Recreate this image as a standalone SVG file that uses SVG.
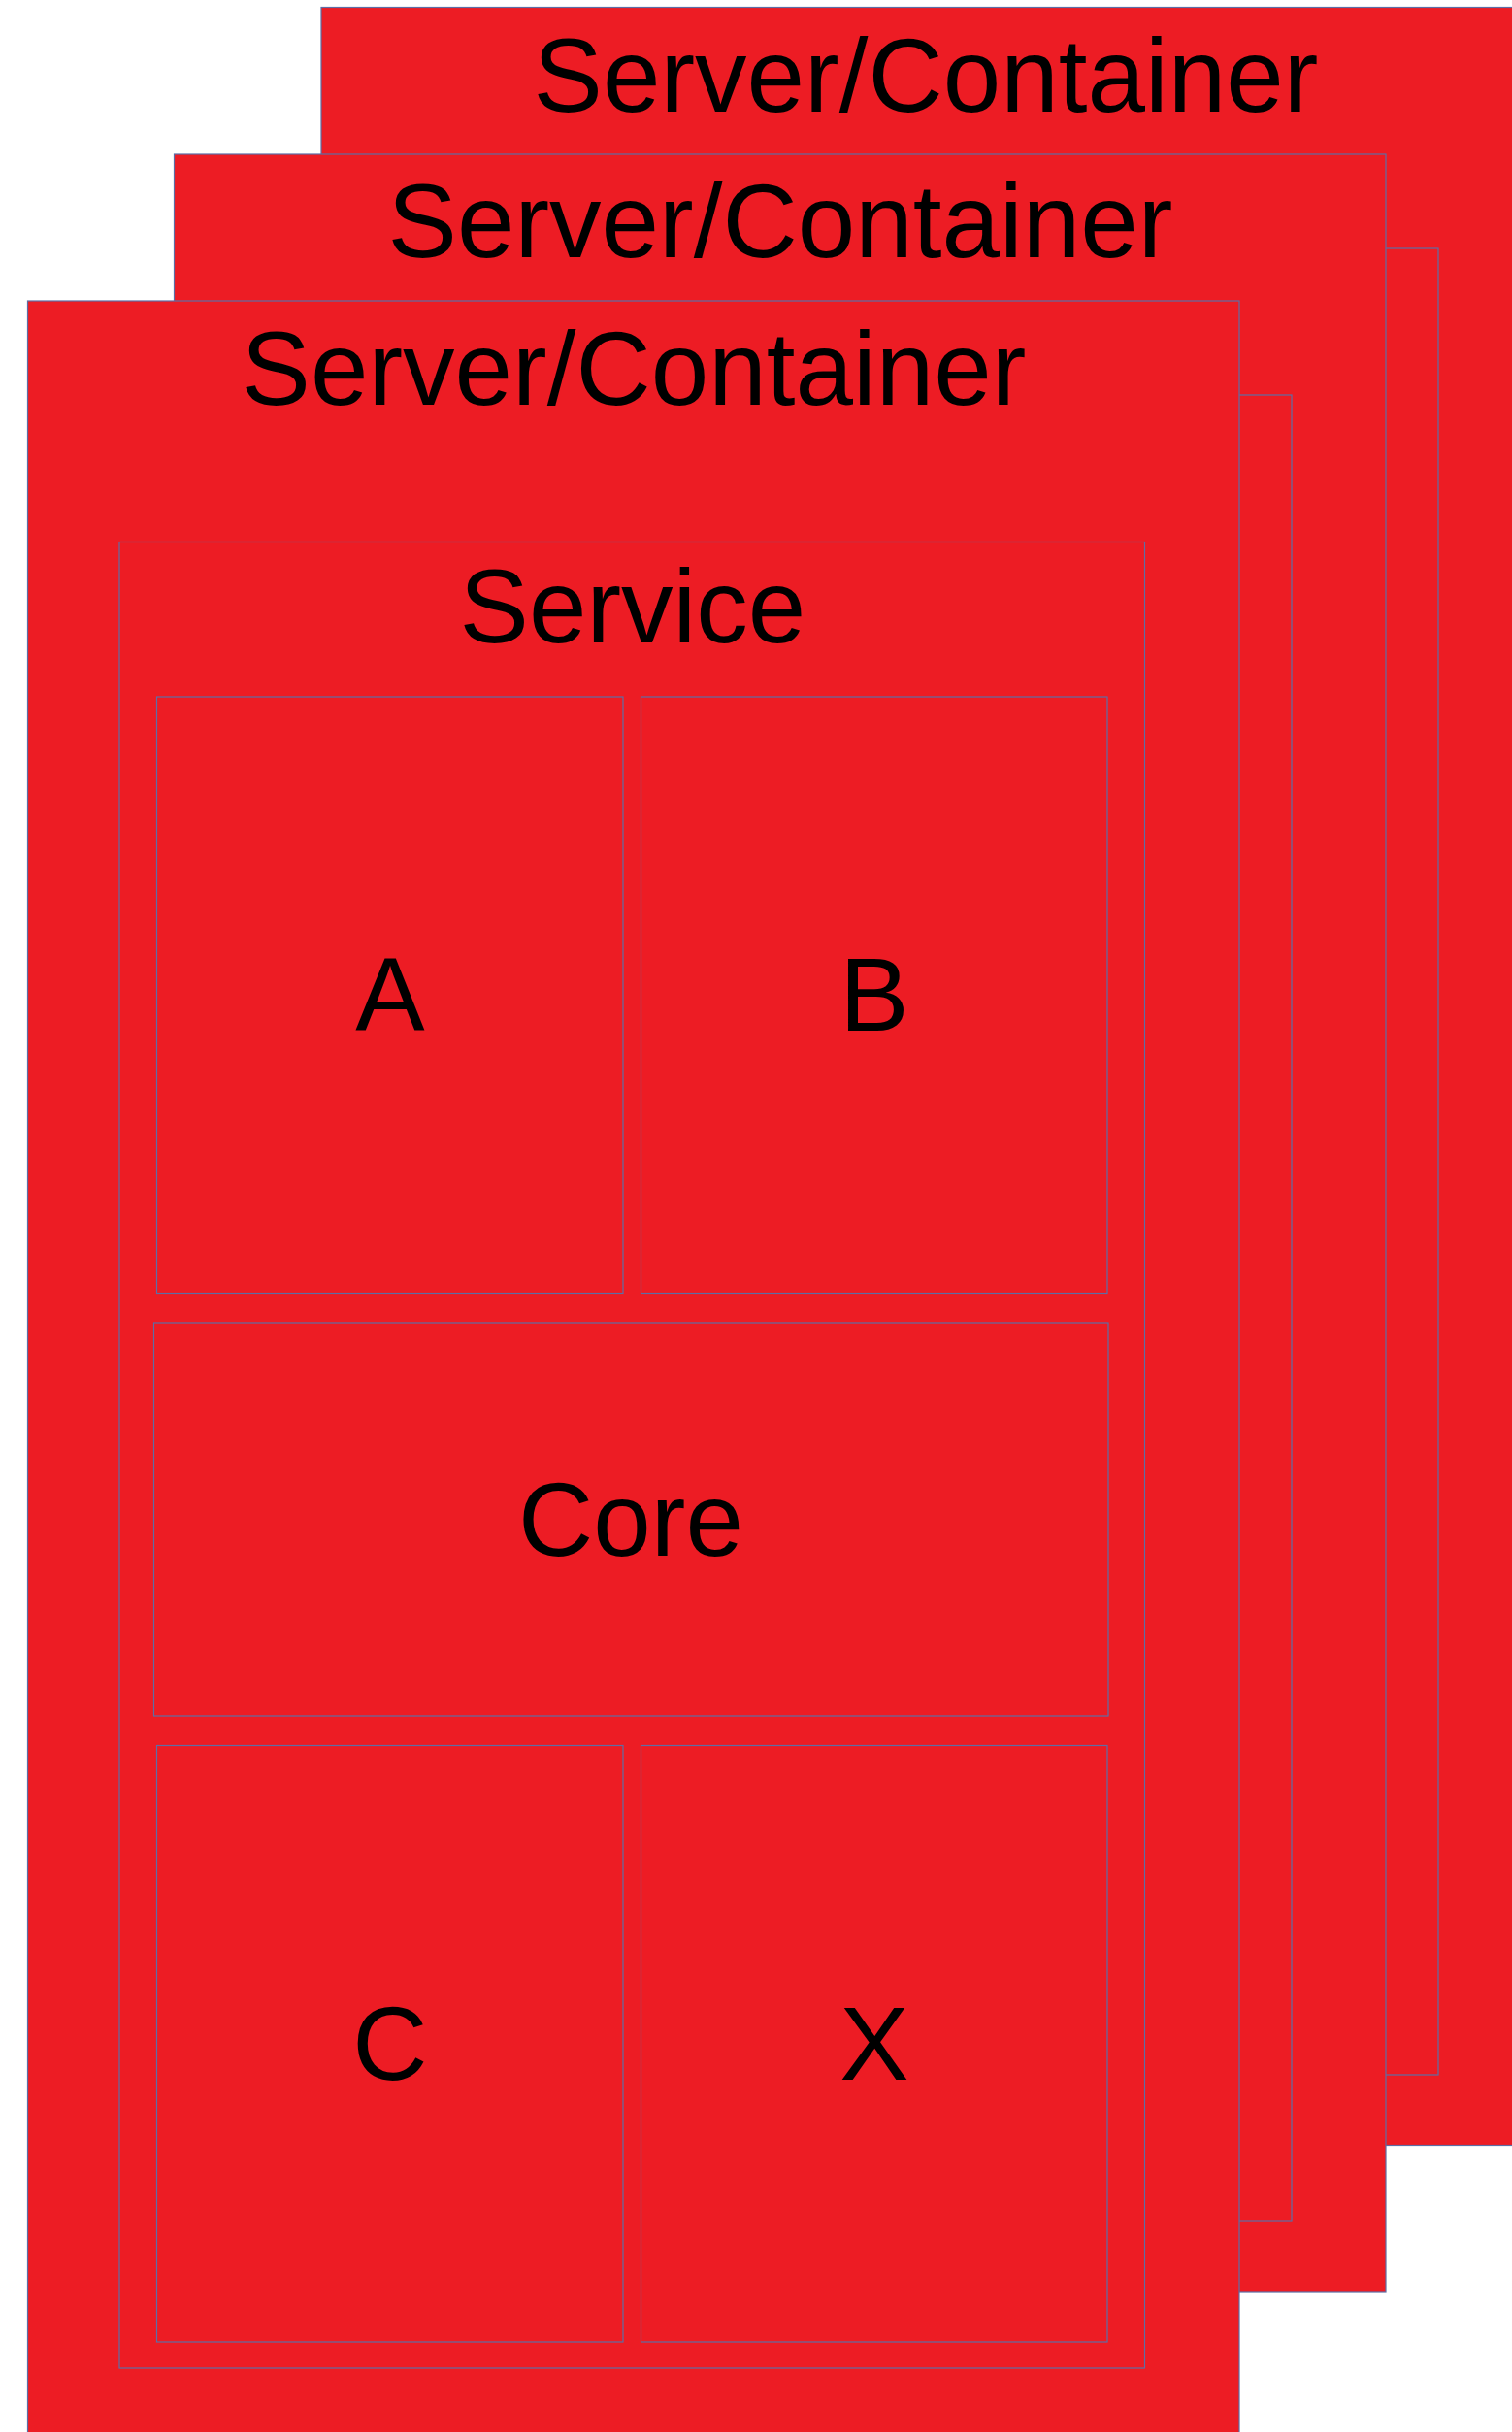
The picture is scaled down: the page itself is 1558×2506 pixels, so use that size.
<svg xmlns="http://www.w3.org/2000/svg" width="1558" height="2506" viewBox="0 0 1558 2506">
  <style>
    .box { fill: #ED1C24; stroke: #5d6ea6; stroke-width: 1.2; }
    .lbl { font-family: "Liberation Sans", Arial, sans-serif; font-size: 107px; fill: #000000; text-anchor: middle; }
  </style>
  <rect x="0" y="0" width="1558" height="2506" fill="#ffffff"/>
  <g id="server-back">
    <rect class="box" x="331" y="7.5" width="1240" height="2203"/>
    <text class="lbl" x="954" y="115">Server/Container</text>
    <rect id="service-back" class="box" x="1300" y="256" width="182" height="1882"/>
  </g>
  <g id="server-middle">
    <rect class="box" x="179.5" y="159" width="1248.5" height="2203"/>
    <text class="lbl" x="804" y="265">Server/Container</text>
    <rect id="service-middle" class="box" x="1200" y="407" width="131" height="1882"/>
  </g>
  <g id="server-front">
    <rect class="box" x="28.5" y="310" width="1248.5" height="2220"/>
    <text class="lbl" x="653" y="417">Server/Container</text>
  </g>
  <g id="service">
    <rect class="box" x="123" y="558.5" width="1056.5" height="1881.5"/>
    <text class="lbl" x="652" y="662">Service</text>
  </g>
  <g id="node-a">
    <rect class="box" x="161.5" y="718" width="480.5" height="614.5"/>
    <text class="lbl" x="402" y="1062">A</text>
  </g>
  <g id="node-b">
    <rect class="box" x="660.5" y="718" width="480.5" height="614.5"/>
    <text class="lbl" x="901" y="1062">B</text>
  </g>
  <g id="node-core">
    <rect class="box" x="158.5" y="1363" width="983.5" height="405"/>
    <text class="lbl" x="650" y="1603">Core</text>
  </g>
  <g id="node-c">
    <rect class="box" x="161.5" y="1798.5" width="480.5" height="614.5"/>
    <text class="lbl" x="402" y="2143">C</text>
  </g>
  <g id="node-x">
    <rect class="box" x="660.5" y="1798.5" width="480.5" height="614.5"/>
    <text class="lbl" x="901" y="2143">X</text>
  </g>
  <g id="connectors"></g>
</svg>
